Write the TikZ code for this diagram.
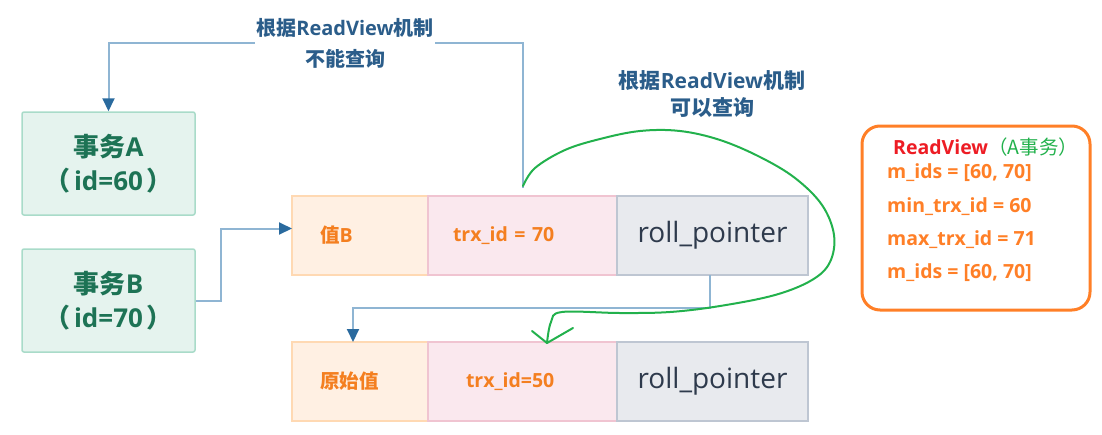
\documentclass[tikz,border=0pt]{standalone}
\usepackage{fontspec}
\setmainfont{Open Sans}
\newfontfamily\cjk{Noto Sans CJK SC}
\usetikzlibrary{arrows.meta,positioning}

\definecolor{txfill}{HTML}{E5F3EE}
\definecolor{txborder}{HTML}{A9DBC9}
\definecolor{txtext}{HTML}{1D7355}
\definecolor{valfill}{HTML}{FFF0E3}
\definecolor{valborder}{HTML}{FFD9B3}
\definecolor{trxfill}{HTML}{FAE8EE}
\definecolor{trxborder}{HTML}{F0C4D1}
\definecolor{rpfill}{HTML}{E8EAEE}
\definecolor{rpborder}{HTML}{BEC6D2}
\definecolor{rptext}{HTML}{2E3A4C}
\definecolor{celltext}{HTML}{F47F20}
\definecolor{linkblue}{HTML}{8FB5D3}
\definecolor{tipblue}{HTML}{2A6A9E}
\definecolor{noteblue}{HTML}{2B5D8A}
\definecolor{scribblegreen}{HTML}{22B14C}
\definecolor{rvorange}{HTML}{FF7F27}
\definecolor{rvred}{HTML}{ED1C24}

\tikzset{
  txbox/.style={draw=txborder, fill=txfill, line width=1.5pt, rounded corners=2pt,
    minimum width=173pt, minimum height=103pt, align=center, text=txtext,
    font=\fontsize{26}{34}\selectfont\bfseries},
  cell/.style={line width=1.5pt, minimum height=79pt, outer sep=0pt, inner ysep=0pt,
    font=\fontsize{19.5}{22}\selectfont\bfseries, text=celltext},
  valcell/.style={cell, draw=valborder, fill=valfill, inner xsep=28pt, text width=80pt, align=left},
  trxcell/.style={cell, draw=trxborder, fill=trxfill, inner xsep=25pt, text width=139pt, align=left},
  rpcell/.style={cell, draw=rpborder, fill=rpfill, minimum width=191pt, text=rptext,
    font=\fontsize{28}{30}\selectfont},
  link/.style={draw=linkblue, line width=2pt, -{Triangle[length=13pt,width=12pt,color=tipblue]}},
  note/.style={text=noteblue, align=center},
  scribble/.style={draw=scribblegreen, line width=2pt, line cap=round, line join=round},
  rvline/.style={anchor=west, inner sep=0pt, text=rvorange, font=\fontsize{19.5}{22}\selectfont\bfseries},
}

\begin{document}
\begin{tikzpicture}[x=1pt,y=-1pt]
\useasboundingbox (0,0) rectangle (1102,434);

% Transactions
\node[txbox] (txA) at (108.5,163.5) {{\cjk 事务}A\\{\cjk （}\hspace{4pt}id=60\hspace{4pt}{\cjk ）}};
\node[txbox] (txB) at (108.5,300.5) {{\cjk 事务}B\\{\cjk （}\hspace{4pt}id=70\hspace{4pt}{\cjk ）}};

% Version chain
\node[valcell] (val1) at (360,235.5) {{\cjk 值}B};
\node[trxcell, right=0pt of val1] (trx1) {trx\_id = 70};
\node[rpcell, right=0pt of trx1] (rp1) {roll\_pointer};

\node[valcell] (val2) at (360,381.5) {{\cjk 原始值}};
\node[trxcell, right=0pt of val2, inner xsep=38pt, text width=113pt] (trx2) {trx\_id=50};
\node[rpcell, right=0pt of trx2] (rp2) {roll\_pointer};

% Links
\coordinate (s1) at ([yshift=8pt]trx1.north);
\draw[link] (s1) -- (s1 |- 0,43) -| (txA.north);
\draw[link] (txB.east) -- ++(25,0) |- ([yshift=7pt]val1.west);
\draw[link] ([xshift=-3pt]rp1.south) -- ++(0,33) -| ([xshift=-7pt]val2.north);

% Notes
\node[note, fill=white, inner sep=1pt, font=\fontsize{20}{31}\selectfont\bfseries] (noteA) at (345,43)
  {{\cjk 根据}ReadView{\cjk 机制}\\{\cjk 不能查询}};
\node[note, font=\fontsize{21}{27}\selectfont\bfseries] (noteB) at (712,94.5)
  {{\cjk 根据}ReadView{\cjk 机制}\\{\cjk 可以查询}};

% Hand-drawn path back to the old version
\draw[scribble] plot[smooth, tension=0.6] coordinates {(523,186) (535,168) (565,150) (600,139)
  (640,131) (680,131) (720,140) (760,157) (795,178) (822,205) (834,235) (830,262) (812,280)
  (775,295) (720,306) (670,312) (620,313) (562,312) (551,322) (547,343)};
\draw[scribble] (532,331) -- (547,343) -- (573,328);

% ReadView
\node[draw=rvorange, line width=3pt, rounded corners=18pt, minimum width=228pt,
  minimum height=184pt] (rv) at (976,218) {};
\node[rvline] (rvT) at (893,147) {\textcolor{rvred}{ReadView}{\mdseries\color{scribblegreen}\cjk （A事务）}};
\node[rvline] (rv1) at (887,173) {m\_ids = [60, 70]};
\node[rvline] (rv2) at (887,207) {min\_trx\_id = 60};
\node[rvline] (rv3) at (887,240) {max\_trx\_id = 71};
\node[rvline] (rv4) at (887,273) {m\_ids = [60, 70]};
\end{tikzpicture}
\end{document}
